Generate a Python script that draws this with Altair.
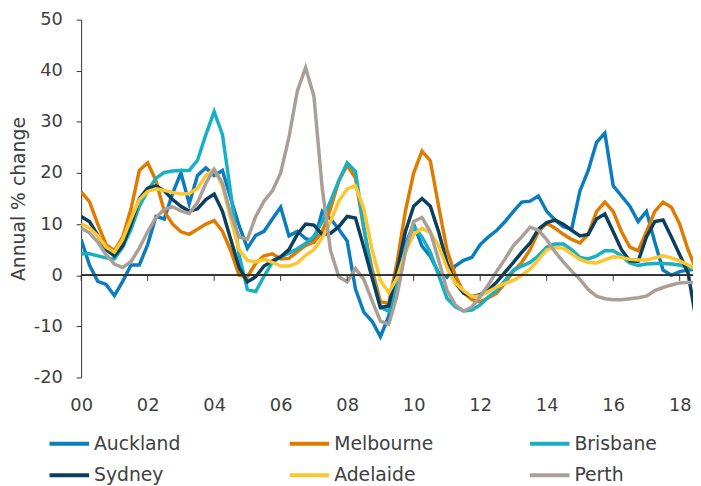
import altair as alt
import pandas as pd

# Quarterly observations, 2000Q1 .. 2018Q3
years = [2000 + 0.25 * i for i in range(75)]

cities = ["Auckland", "Melbourne", "Brisbane", "Sydney", "Adelaide", "Perth"]
colors = ["#0b7dbf", "#e07b00", "#17b0c4", "#0b3f5e", "#fdc52e", "#aa9f96"]

auckland = [7, 2, -1.2, -1.8, -4, -1.2, 2, 2, 6, 11.5, 11, 16, 20, 14, 19.5, 21,
            19.5, 20.5, 15, 9.7, 5.3, 7.8, 8.6, 11, 13.3, 7.7, 8.6, 7.2, 6.5, 12.5, 11, 9,
            6.7, -2.7, -7.2, -9, -12, -8, -1, 6, 10, 5.7, 3.7, 0.5, -0.4, 1.8, 2.9, 3.5,
            6, 7.5, 8.8, 10.5, 12.5, 14.3, 14.5, 15.5, 12.5, 10.8, 9.5, 9, 16.5, 20.5, 26, 27.8,
            17.5, 15.5, 13.5, 10.5, 12.5, 6.5, 1, 0, 0.7, 1, 1.2]
melbourne = [16.3, 14.4, 10, 6, 4.8, 7.5, 13, 20.5, 22, 18.5, 12.5, 10, 8.5, 8, 9, 10,
             10.7, 8.6, 4.8, 0, -0.3, 2.3, 3.8, 4.2, 3.2, 3.3, 4.6, 5.8, 6.5, 8.5, 13, 18.5,
             21.5, 19, 9, 1.2, -5.2, -5.5, 2.5, 12.5, 20, 24.3, 22.4, 13.5, 5, 0, -3.4, -4.8,
             -5.2, -4.4, -3.5, -1.5, 0.8, 2.5, 5, 8.5, 10.2, 9.2, 8, 7, 6.3, 8, 12.5, 14.3,
             12.5, 8.5, 5.5, 4.8, 8.5, 12.5, 14.3, 13.3, 10, 5, 1]
brisbane = [4.2, 4.2, 3.8, 3.4, 3.2, 5.5, 9, 13.5, 16.5, 19, 20.1, 20.4, 20.5, 20.5, 22.5, 27.5,
            32, 27.5, 16, 4, -2.8, -3.2, -0.2, 2.5, 3.6, 4.3, 5.2, 6.2, 7.6, 10.5, 14.5, 18.5,
            22, 20.3, 9.5, 0, -6.3, -7, -1.5, 5.5, 9.5, 7.5, 4.5, 0, -4.5, -6.2, -7, -6.8,
            -5.8, -4.2, -3, -1, 1, 1.8, 2.5, 3.8, 5.5, 6.1, 6.1, 5, 3.5, 3.2, 3.8, 4.8,
            4.8, 3.8, 2.4, 1.9, 2.2, 2.3, 2.3, 2.2, 2, 1.5, 1.2]
sydney = [11.5, 10.5, 7.8, 5, 3.8, 5.8, 10, 15, 17, 17.5, 16.5, 14.8, 13.5, 12.5, 13, 14.8,
          15.9, 12.5, 7, 1.5, -1.3, -0.3, 1.8, 2.8, 3.6, 5, 8, 10, 9.8, 8, 8.2, 9.5,
          11.5, 11.2, 5.5, -0.5, -6.3, -6, 1, 8.5, 13.5, 15, 13.5, 8.5, 2.5, -1.5, -3.5, -4.2,
          -3.8, -2.9, -1.3, 0.6, 2.5, 4.5, 6.3, 9, 10.3, 10.8, 10, 8.8, 7.7, 8, 11, 12,
          8.5, 5, 2.8, 2.7, 7.5, 10.5, 10.8, 7.5, 4, 0.5, -9]
adelaide = [10, 9.3, 7.7, 5.5, 4.5, 7, 11, 14.8, 16.4, 16.9, 16.6, 16.2, 15.9, 16, 17, 19.5,
            20.7, 17.5, 11, 5, 2.9, 2.6, 3.1, 2.5, 1.8, 1.8, 2.4, 3.9, 5, 7.3, 10.5, 14.5,
            16.9, 17.5, 13, 5, -1, -3.4, -0.5, 4.5, 8, 9.2, 8.3, 5.8, 1.5, -1.5, -3, -4.2,
            -4, -3.2, -2.3, -1.6, -1, 0, 1.2, 3, 5, 5.4, 5.3, 4.2, 3.1, 2.5, 2.4, 3,
            3.6, 3.5, 3.1, 3, 3, 3.4, 3.8, 3.4, 2.8, 2, 1.2]
perth = [9.2, 8.3, 6.5, 4, 2.2, 1.5, 2.7, 5.3, 8.5, 11.3, 12.9, 13.4, 12.6, 12.1, 14.2, 18,
         20.7, 18, 12, 7.5, 7, 11.5, 14.5, 16.5, 20, 27, 36, 40.6, 35, 17, 4.8, -0.3,
         -1.3, 1.3, -0.8, -5, -9, -9.6, -4, 4.5, 10.5, 11.3, 8.5, 3, -2.9, -5.8, -7, -6.2,
         -4.2, -1.8, 0.8, 3.2, 5.8, 7.5, 9.4, 8.8, 7, 4.6, 2.6, 0.8, -0.8, -2.8, -4.1, -4.6,
         -4.8, -4.8, -4.6, -4.4, -4.1, -3, -2.4, -1.9, -1.5, -1.4, -1.4]

series = [auckland, melbourne, brisbane, sydney, adelaide, perth]

tick_years = [2000, 2002, 2004, 2006, 2008, 2010, 2012, 2014, 2016, 2018]
y_ticks = [-20, -10, 0, 10, 20, 30, 40, 50]

rows = []
for ci, (city, vals) in enumerate(zip(cities, series)):
    for yr, v in zip(years, vals):
        rows.append({"year": yr, "value": v, "city": city, "order": ci})
df = pd.DataFrame(rows)
ticks_df = pd.DataFrame({"year": tick_years})

FONT = "DejaVu Sans"
TXT = "#404040"

xscale = alt.Scale(domain=[2000, 2018.4], nice=False, zero=False)
yscale = alt.Scale(domain=[-20, 50], nice=False, zero=False)

lines = alt.Chart(df).mark_line(strokeWidth=3.5, clip=True).encode(
    x=alt.X("year:Q", scale=xscale,
            axis=alt.Axis(values=tick_years, labelExpr="format(datum.value % 100, '02d')",
                          domain=False, ticks=False, grid=False, title=None, labelFlush=False,
                          labelPadding=19, labelFontSize=18, labelColor=TXT, labelFont=FONT)),
    y=alt.Y("value:Q", scale=yscale,
            axis=alt.Axis(values=y_ticks, labelExpr="toString(datum.value)",
                          domain=True, domainColor="#333333", ticks=True,
                          tickColor="#333333", tickSize=5, labelPadding=14, grid=False,
                          title="Annual % change", titleFontSize=19, titleFontWeight="normal",
                          titleColor=TXT, titleFont=FONT, titlePadding=5,
                          labelFontSize=18, labelColor=TXT, labelFont=FONT)),
    color=alt.Color("city:N", scale=alt.Scale(domain=cities, range=colors),
                    legend=alt.Legend(orient="none", legendX=-34, legendY=407, columns=3,
                                      direction="horizontal",
                                      symbolType="stroke", symbolStrokeWidth=4, symbolSize=1600,
                                      labelFontSize=19, labelColor=TXT, labelFont=FONT,
                                      labelOffset=3, columnPadding=89, rowPadding=-10,
                                      gridAlign="all", title=None)),
    order="order:Q",
    detail="city:N",
)

zero_rule = alt.Chart(ticks_df).mark_rule(color="#333333", strokeWidth=1).encode(
    y=alt.Y(datum=0)
)

tick_marks = alt.Chart(ticks_df).mark_rule(color="#333333", strokeWidth=1).encode(
    x=alt.X("year:Q"),
    y=alt.Y(datum=0),
    y2=alt.Y2(datum=-1.1),
)

chart = alt.layer(lines, zero_rule, tick_marks).properties(
    width=619, height=362,
    autosize=alt.AutoSizeParams(type="none"),
    padding={"left": 74, "top": 9, "right": 0, "bottom": 107},
).configure_view(stroke=None)

chart.save("out.html", embed_options={"renderer": "svg", "actions": False})
